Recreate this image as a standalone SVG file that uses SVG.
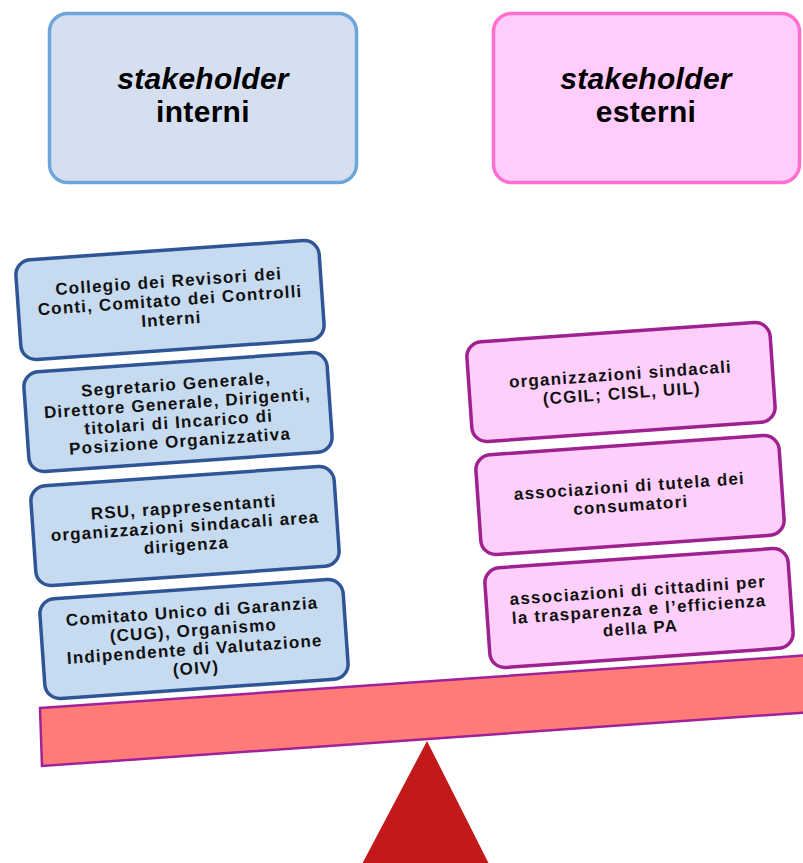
<svg xmlns="http://www.w3.org/2000/svg" width="803" height="863" viewBox="0 0 803 863">
<style>
.hdr-l{fill:#d6dff0;stroke:#6fa6da;stroke-width:3.5}
.hdr-r{fill:#ffccfb;stroke:#ff6fcf;stroke-width:3.5}
.ht{font-family:"Liberation Sans",Arial,sans-serif;font-weight:bold;font-size:30px;text-anchor:middle;fill:#000;letter-spacing:0.3px}
.it{font-style:italic}
.bl{fill:#c6daf0;stroke:#2f5597;stroke-width:3.5}
.pk{fill:#fecffb;stroke:#9e218f;stroke-width:3.5}
.bt{font-family:"Liberation Sans",Arial,sans-serif;font-weight:bold;font-size:17px;text-anchor:middle;fill:#111;letter-spacing:1.2px}
</style>
<rect width="803" height="863" fill="#ffffff"/>

<g id="header-interni">
<rect class="hdr-l" x="49.5" y="13.5" width="307" height="169" rx="18"/>
<text class="ht it" x="203" y="89">stakeholder</text>
<text class="ht" x="203" y="122">interni</text>
</g>
<g id="header-esterni">
<rect class="hdr-r" x="493.5" y="13.5" width="306" height="169" rx="18"/>
<text class="ht it" x="646" y="89">stakeholder</text>
<text class="ht" x="646" y="122">esterni</text>
</g>

<g id="fulcrum">
<polygon points="427,741 490,866 361,866" fill="#c21a1a"/>
</g>
<g id="beam">
<polygon points="40,708 812,655 812,712 42,766" fill="#ff7b78" stroke="#a0229a" stroke-width="2.5"/>
</g>

<g id="int-1" transform="translate(170,300) rotate(-4)">
<rect class="bl" x="-152" y="-50" width="304" height="100" rx="15"/>
<text class="bt" x="0" y="-13">Collegio dei Revisori dei</text>
<text class="bt" x="0" y="6">Conti, Comitato dei Controlli</text>
<text class="bt" x="0" y="25">Interni</text>
</g>
<g id="int-2" transform="translate(178,412) rotate(-4)">
<rect class="bl" x="-152" y="-50" width="304" height="100" rx="15"/>
<text class="bt" x="0" y="-22">Segretario Generale,</text>
<text class="bt" x="0" y="-3">Direttore Generale, Dirigenti,</text>
<text class="bt" x="0" y="16">titolari di Incarico di</text>
<text class="bt" x="0" y="35">Posizione Organizzativa</text>
</g>
<g id="int-3" transform="translate(185,526) rotate(-4)">
<rect class="bl" x="-152" y="-50" width="304" height="100" rx="15"/>
<text class="bt" x="0" y="-13">RSU, rappresentanti</text>
<text class="bt" x="0" y="6">organizzazioni sindacali area</text>
<text class="bt" x="0" y="25">dirigenza</text>
</g>
<g id="int-4" transform="translate(194,639) rotate(-4)">
<rect class="bl" x="-152" y="-50" width="304" height="100" rx="15"/>
<text class="bt" x="0" y="-22">Comitato Unico di Garanzia</text>
<text class="bt" x="0" y="-3">(CUG), Organismo</text>
<text class="bt" x="0" y="16">Indipendente di Valutazione</text>
<text class="bt" x="0" y="35">(OIV)</text>
</g>

<g id="est-1" transform="translate(621,382) rotate(-4)">
<rect class="pk" x="-152" y="-50" width="304" height="100" rx="15"/>
<text class="bt" x="0" y="-2">organizzazioni sindacali</text>
<text class="bt" x="0" y="17">(CGIL; CISL, UIL)</text>
</g>
<g id="est-2" transform="translate(630,495) rotate(-4)">
<rect class="pk" x="-152" y="-50" width="304" height="100" rx="15"/>
<text class="bt" x="0" y="-3">associazioni di tutela dei</text>
<text class="bt" x="0" y="16">consumatori</text>
</g>
<g id="est-3" transform="translate(639,608) rotate(-4)">
<rect class="pk" x="-152" y="-50" width="304" height="100" rx="15"/>
<text class="bt" x="0" y="-12">associazioni di cittadini per</text>
<text class="bt" x="0" y="7">la trasparenza e l’efficienza</text>
<text class="bt" x="0" y="26">della PA</text>
</g>
</svg>
